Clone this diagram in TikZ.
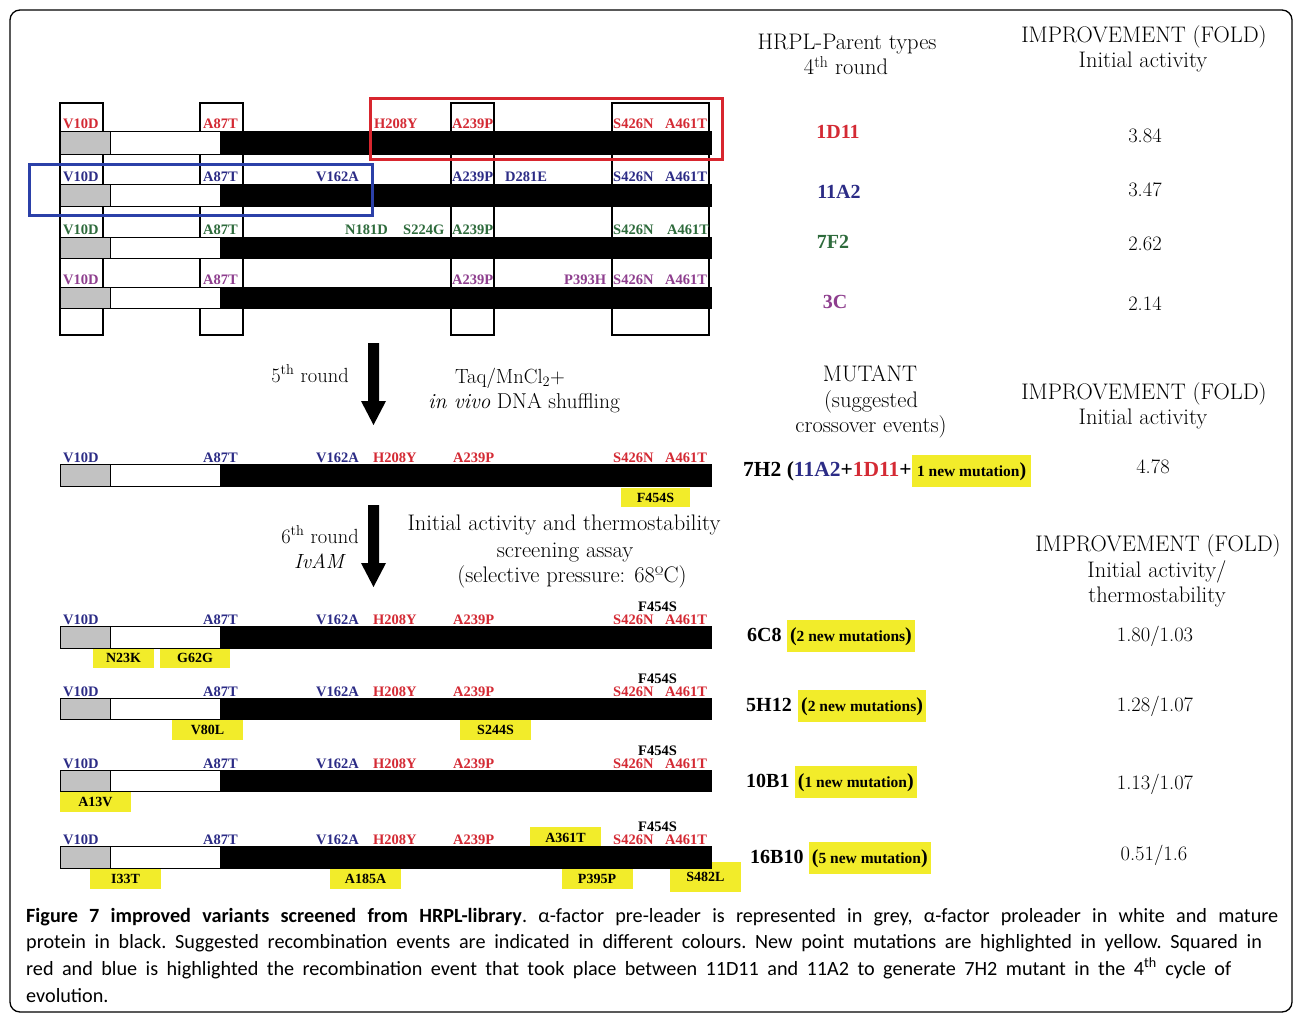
\documentclass[tikz,border=0pt]{standalone}
\usepackage{fontspec}
\newfontfamily\tms{Liberation Serif}
\newfontfamily\capf{Carlito}
\definecolor{mred}{HTML}{D42A34}
\definecolor{mnavy}{HTML}{2C2C86}
\definecolor{mgreen}{HTML}{2E6B3C}
\definecolor{mpurp}{HTML}{8E3E8E}
\definecolor{myel}{HTML}{F2EC2A}
\definecolor{mgrey}{HTML}{C2C2C2}
\definecolor{mbox}{HTML}{2B40A8}
\definecolor{rbox}{HTML}{D8262E}
\newcommand\fsz[1]{\fontsize{#1}{#1}\selectfont}
\tikzset{
  mut/.style={anchor=base west, inner sep=0pt, font=\tms\bfseries\fsz{14.5}},
  hl/.style={fill=myel, inner sep=0pt, font=\tms\bfseries\fsz{14}},
  txt/.style={anchor=base, inner sep=0pt, font=\fsz{22.5}},
  stxt/.style={anchor=base, inner sep=0pt, font=\fsz{20.5}},
  val/.style={inner sep=0pt, font=\fsz{20.5}},
  nm/.style={inner sep=0pt, font=\tms\bfseries\fsz{20}, text height=14pt, text depth=4pt},
  hln/.style={fill=myel, inner xsep=3pt, inner ysep=7pt, font=\tms\bfseries\fsz{20}, text height=14pt, text depth=4pt},
  vbox/.style={draw, line width=1.3pt},
  recbox/.style={draw, line width=3pt},
  capl/.style={anchor=base west, inner sep=0pt, font=\capf\fsz{20.2}\frenchspacing},
}
\newcommand\protbar[2]{%
  \fill[mgrey] (60,#1) rectangle (110,#2);
  \fill[white] (110,#1) rectangle (220,#2);
  \fill[black] (220,#1) rectangle (711,#2);
  \draw[line width=1pt] (60,#1) rectangle (711,#2);
  \draw[line width=1pt] (110,#1) -- (110,#2);}
\newcommand\mutrow[2]{%
  \foreach \x/\t/\c [count=\i] in {63/V10D/mnavy,203/A87T/mnavy,316/V162A/mnavy,373/H208Y/mred,453/A239P/mred,613/S426N/mred,665/A461T/mred}
    \node[mut,text=\c] (#1-\i) at (\x,#2) {\t};}
\begin{document}
\begin{tikzpicture}[x=1pt,y=-1pt]
\useasboundingbox (0,0) rectangle (1293,1014);
\fill[white] (0,0) rectangle (1293,1014);

% ---------- parent section ----------
\draw[vbox] (60,103) rectangle (103,335);
\draw[vbox] (200,103) rectangle (243,335);
\draw[vbox] (451,103) rectangle (494,335);
\draw[vbox] (612,103) rectangle (709,335);

\protbar{132}{155}
\protbar{184}{206}
\protbar{237}{258}
\protbar{287}{308}

\foreach \x/\t [count=\i] in {63/V10D,203/A87T,374/H208Y,452/A239P,613/S426N,665/A461T}
  \node[mut,text=mred] (pa-\i) at (\x,129) {\t};
\foreach \x/\t [count=\i] in {63/V10D,203/A87T,316/V162A,452/A239P,505/D281E,613/S426N,665/A461T}
  \node[mut,text=mnavy] (pb-\i) at (\x,181) {\t};
\foreach \x/\t [count=\i] in {63/V10D,203/A87T,345/N181D,403/S224G,452/A239P,613/S426N,667/A461T}
  \node[mut,text=mgreen] (pc-\i) at (\x,234) {\t};
\foreach \x/\t [count=\i] in {63/V10D,203/A87T,452/A239P,564/P393H,613/S426N,665/A461T}
  \node[mut,text=mpurp] (pd-\i) at (\x,284) {\t};

\draw[recbox,rbox] (370,99) rectangle (722,160);
\draw[recbox,mbox] (29,164) rectangle (372,215);

% headers
\node[txt] (h1a) at (847,50) {HRPL-Parent types};
\node[txt] (h1b) at (846,75) {4\textsuperscript{th} round};
\node[txt] (h2a) at (1144,43) {IMPROVEMENT (FOLD)};
\node[txt] (h2b) at (1143,68) {Initial activity};

\node[nm,text=mred] (p1) at (838,134) {1D11};
\node[nm,text=mnavy] (p2) at (839,193) {11A2};
\node[nm,text=mgreen] (p3) at (833,243) {7F2};
\node[nm,text=mpurp] (p4) at (835,303) {3C};
\node[val] (v1) at (1145,136) {3.84};
\node[val] (v2) at (1145,190) {3.47};
\node[val] (v3) at (1145,244) {2.62};
\node[val] (v4) at (1145,304) {2.14};

% ---------- arrows ----------
\fill[black] (368,343) -- (379,343) -- (379,401) -- (386,401) -- (373.5,425) -- (361,401) -- (368,401) -- cycle;
\fill[black] (368,505) -- (379,505) -- (379,563) -- (386,563) -- (373.5,587) -- (361,563) -- (368,563) -- cycle;

\node[stxt] (r5) at (310,382) {5\textsuperscript{th} round};
\node[stxt] (taq) at (510,383) {Taq/MnCl\textsubscript{2}+};
\node[stxt, font=\fsz{21.5}] (ivv) at (524,408) {\textit{in vivo} DNA shuffling};
\node[stxt] (r6) at (320,543) {6\textsuperscript{th} round};
\node[stxt] (ivam) at (320,568) {\textit{IvAM}};
\node[txt] (sc1) at (564,530) {Initial activity and thermostability};
\node[txt] (sc2) at (565,557) {screening assay};
\node[txt] (sc3) at (572,582) {(selective pressure: 68ºC)};

\node[txt] (m1) at (870,381) {MUTANT};
\node[txt] (m2) at (871,407) {(suggested};
\node[txt] (m3) at (871,432) {crossover events)};
\node[txt] (h3a) at (1144,399) {IMPROVEMENT (FOLD)};
\node[txt] (h3b) at (1143,424) {Initial activity};
\node[txt] (h4a) at (1158,551) {IMPROVEMENT (FOLD)};
\node[txt] (h4b) at (1157,577) {Initial activity/};
\node[txt] (h4c) at (1157,602) {thermostability};

% ---------- 7H2 ----------
\node[hl, minimum width=69pt, minimum height=19pt] (y7) at (655.5,497.5) {F454S};
\protbar{464}{486}
\mutrow{q}{462}
\node[nm, anchor=west, font=\tms\bfseries\fsz{21.5}] (n7) at (743,471) {7H2 (\textcolor{mnavy}{11A2}+\textcolor{mred}{1D11}+};
\node[hln, anchor=west, inner xsep=5pt] (n7h) at (n7.east) {{\fsz{15.5}1 new mutation})};
\node[val] (v7) at (1153,467) {4.78};

% ---------- 6C8 ----------
\node[hl, minimum width=61pt, minimum height=20pt] (ya1) at (123.5,658) {N23K};
\node[hl, minimum width=70pt, minimum height=20pt] (ya2) at (195,658) {G62G};
\protbar{626}{648}
\mutrow{s}{624}
\node[mut] (fa) at (638,611) {F454S};
\node[nm, anchor=west] (n6) at (747,636) {6C8};
\node[hln, anchor=west] (n6h) at ([xshift=5pt]n6.east) {({\fsz{15.5}2 new mutations})};
\node[val] (v6) at (1155,636) {1.80/1.03};

% ---------- 5H12 ----------
\node[hl, minimum width=71pt, minimum height=21pt] (yb1) at (207.5,729.5) {V80L};
\node[hl, minimum width=71pt, minimum height=21pt] (yb2) at (495.5,729.5) {S244S};
\protbar{698}{719}
\mutrow{t}{696}
\node[mut] (fb) at (638,683) {F454S};
\node[nm, anchor=west] (n5) at (746,706) {5H12};
\node[hln, anchor=west] (n5h) at ([xshift=6pt]n5.east) {({\fsz{15.5}2 new mutations})};
\node[val] (v5) at (1155,706) {1.28/1.07};

% ---------- 10B1 ----------
\node[hl, minimum width=71pt, minimum height=21pt] (yc1) at (95.5,801.5) {A13V};
\protbar{770}{791}
\mutrow{u}{768}
\node[mut] (fc) at (638,755) {F454S};
\node[nm, anchor=west] (n10) at (746,782) {10B1};
\node[hln, anchor=west] (n10h) at ([xshift=5pt]n10.east) {({\fsz{15.5}1 new mutation})};
\node[val] (v10) at (1155,784) {1.13/1.07};

% ---------- 16B10 ----------
\node[hl, minimum width=71pt, minimum height=22pt] (yd0) at (565.5,838) {A361T};
\node[hl, minimum width=71pt, minimum height=21pt] (yd1) at (125.5,878.5) {I33T};
\node[hl, minimum width=71pt, minimum height=21pt] (yd2) at (365.5,878.5) {A185A};
\node[hl, minimum width=71pt, minimum height=21pt] (yd3) at (597,878.5) {P395P};
\node[hl, minimum width=71pt, minimum height=30pt] (yd4) at (705.5,877) {S482L};
\protbar{846}{868}
\mutrow{w}{844}
\node[mut] (fd) at (638,831) {F454S};
\node[nm, anchor=west] (n16) at (750,858) {16B10};
\node[hln, anchor=west] (n16h) at ([xshift=5pt]n16.east) {({\fsz{15.5}5 new mutation})};
\node[val] (v16) at (1154,855) {0.51/1.6};

% ---------- caption ----------
\node[capl] (c1) at (26,922) {\makebox[1252pt][s]{\textbf{Figure 7 improved variants screened from HRPL-library}. α-factor pre-leader is represented in grey, α-factor proleader in white and mature}};
\node[capl] (c2) at (26,948) {\makebox[1236pt][s]{protein in black. Suggested recombination events are indicated in different colours. New point mutations are highlighted in yellow. Squared in}};
\node[capl] (c3) at (26,975) {\makebox[1205pt][s]{red and blue is highlighted the recombination event that took place between 11D11 and 11A2 to generate 7H2 mutant in the 4\textsuperscript{th} cycle of}};
\node[capl] (c4) at (26,1002) {evolution.};

\draw[line width=1.3pt, rounded corners=10pt] (10,10) rectangle (1292,1012);
\end{tikzpicture}
\end{document}
